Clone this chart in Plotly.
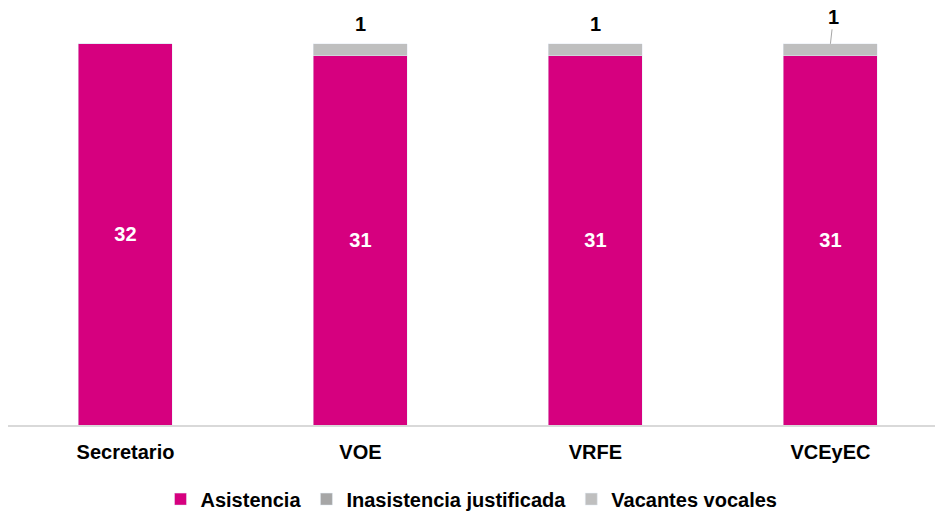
import plotly.graph_objects as go

categories = ["Secretario", "VOE", "VRFE", "VCEyEC"]
asistencia = [32, 31, 31, 31]
inasistencia = [0, 0, 0, 0]
vacantes = [0, 1, 1, 1]

PINK = "#D6007F"
GRAY_DARK = "#A6A6A6"
GRAY_LIGHT = "#BFBFBF"
FONT = "Liberation Sans, Arial, sans-serif"
FS = 20

fig = go.Figure()
fig.add_trace(go.Bar(x=categories, y=asistencia, name="Asistencia", marker_color=PINK,
                     text=asistencia, texttemplate="<b>%{text}</b>",
                     textposition="inside", insidetextanchor="middle",
                     textangle=0, textfont=dict(color="white", size=FS, family=FONT),
                     width=0.4))
fig.add_trace(go.Bar(x=categories, y=inasistencia, name="Inasistencia justificada",
                     marker_color=GRAY_DARK, width=0.4))
fig.add_trace(go.Bar(x=categories, y=vacantes, name="Vacantes vocales",
                     marker_color=GRAY_LIGHT, width=0.4))

for i, c in enumerate(categories):
    extra = inasistencia[i] + vacantes[i]
    if extra > 0:
        total = asistencia[i] + extra
        if c == "VCEyEC":
            fig.add_annotation(x=c, y=total, text="<b>%d</b>" % extra, showarrow=True,
                               arrowhead=0, arrowwidth=1, arrowcolor=GRAY_DARK,
                               ax=3, ay=-27, font=dict(size=FS, color="black", family=FONT))
        else:
            fig.add_annotation(x=c, y=total, text="<b>%d</b>" % extra, showarrow=False,
                               yshift=20, font=dict(size=FS, color="black", family=FONT))

fig.update_layout(
    barmode="stack",
    width=935, height=511,
    margin=dict(l=8, r=0, t=20, b=86, autoexpand=False),
    plot_bgcolor="white", paper_bgcolor="white",
    font=dict(family=FONT, size=FS, color="black"),
    showlegend=True,
    legend=dict(orientation="h", x=0.5, xanchor="center", y=-0.183, yanchor="middle",
                font=dict(size=FS, family=FONT, weight="bold"), traceorder="normal"),
)
fig.update_xaxes(range=[-0.5, 3.445], showline=True, linecolor="#D9D9D9", linewidth=1.5,
                 tickfont=dict(size=FS, family=FONT, weight="bold"), ticks="", showgrid=False,
                 ticklabelstandoff=8)
fig.update_yaxes(range=[0, 34], showticklabels=False, showgrid=False, zeroline=False,
                 showline=False)

fig.write_html("out.html", config={"displayModeBar": False},
               post_script="document.body.style.margin='0';")
